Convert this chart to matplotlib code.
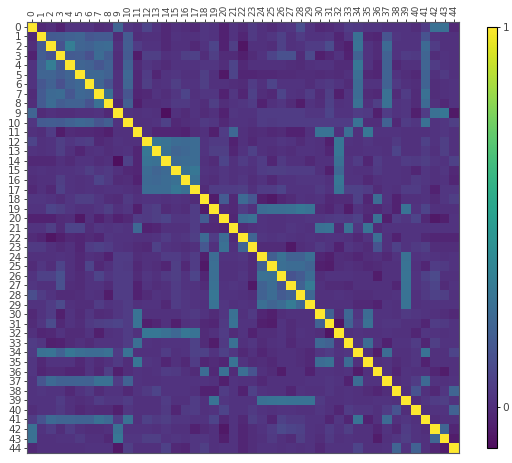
import numpy as np
import matplotlib
matplotlib.use('Agg')
import matplotlib.pyplot as plt

labels = [str(i) for i in range(45)]

# upper triangle of the correlation matrix, in hundredths, row i holds columns i+1..44
upper = [
    [-2,0,-4,2,2,2,-1,0,22,3, 1,8,2,-2,1,0,-2,3,2,-4, 2,-1,4,1,-1,2,3,12,2,-2, -1,1,5,4,3,3,2,2,2,0, 5,27,27,-2],
    [17,18,20,22,16,17,17,-1,17, 0,1,1,-2,2,1,1,3,2,-4, 2,-3,4,1,3,7,1,5,2,2, 3,-3,3,27,-2,-3,15,3,2,2, 14,2,1,1],
    [14,33,22,20,24,25,1,18, 5,2,2,-2,1,1,-2,2,8,-4, 6,-8,1,1,0,7,1,2,5,5, 11,-2,-5,28,2,-1,24,2,2,2, 24,5,1,1],
    [17,18,13,25,18,0,17, -6,6,6,1,2,6,7,0,6,-1, -1,-5,-1,2,8,13,13,-1,10,-5, -2,2,-4,20,2,-1,20,2,5,4, 22,0,2,1],
    [22,20,16,20,0,20, -1,3,1,-1,2,2,2,3,3,0, 8,-2,1,1,1,1,0,-1,1,2, 2,-1,-1,30,2,-3,20,-2,1,1, 22,5,2,1],
    [23,23,20,1,23, -2,5,-3,2,3,1,1,6,1,-7, 8,-3,-3,-2,-2,-1,-1,0,0,-1, 0,-1,1,26,-2,-3,21,2,0,-2, 21,1,4,1],
    [22,14,1,22, -2,6,1,2,6,2,2,6,1,1, 0,-1,5,1,8,2,2,2,0,3, 4,2,-1,25,2,2,20,4,1,0, 21,0,1,2],
    [27,2,15, -3,-2,2,0,3,8,1,3,3,-4, 3,-3,7,0,-2,8,2,1,5,-1, 6,-5,2,25,-1,-2,27,-1,5,-1, 27,0,1,2],
    [-2,19, -5,0,0,1,4,4,2,0,6,0, 2,3,5,-4,1,3,-1,-6,2,0, 7,1,2,27,1,6,27,2,3,-1, 24,1,-2,2],
    [2, 1,2,1,-10,1,-1,2,-1,1,-4, 3,2,2,5,5,5,5,5,3,3, 8,2,2,5,4,-5,5,2,3,-5, 5,27,30,-7],
    [1,1,2,7,-2,0,1,4,3,-2, 2,2,1,5,4,5,5,5,5,5, 5,5,5,28,0,0,20,-2,5,3, 27,2,3,6],
    [1,-3,-3,-3,-4,0,1,-5,5, 23,1,-1,0,-2,-1,-4,-4,1,28, 28,1,26,1,30,2,2,2,1,1, 1,2,3,1],
    [30,28,25,24,25,2,4,4, -4,1,-2,1,1,3,2,-1,2,1, -5,30,2,1,3,1,1,4,1,1, 7,2,6,1],
    [27,22,23,25,2,6,6, -3,2,7,1,0,1,0,2,2,1, -3,30,1,1,2,2,1,8,1,1, 4,1,6,1],
    [24,25,25,1,-1,8, 1,5,2,5,-3,4,1,1,-2,1, 1,27,2,5,-3,5,2,2,5,4, 6,3,2,7],
    [27,30,2,1,3, 1,2,1,5,6,6,5,5,5,1, -5,23,2,1,1,4,2,2,1,-3, 3,1,3,-2],
    [27,1,0,3, 1,3,0,2,-2,2,2,3,3,3, 1,30,2,2,-2,1,2,2,1,4, 3,1,2,-3],
    [-1,5,5, 5,6,1,5,5,8,2,2,2,4, 2,28,7,7,5,-1,2,1,5,5, 2,-4,3,3],
    [-6,17, -2,24,16,-5,-7,-3,-1,2,1,2, -2,-1,-1,7,-3,25,2,-4,1,1, 2,-1,3,6],
    [-1, -2,5,1,25,26,26,27,30,28,-1, -3,1,-6,2,-1,-2,1,-4,28,2, 8,1,1,1],
    [-3,25,27,2,1,1,2,2,3,3, 4,5,4,7,-3,27,-5,5,3,8, -2,-7,-5,2],
    [-1,1,2,1,1,3,2,1,27, 28,-1,27,3,28,-1,2,2,2,2, 2,2,2,2],
    [22,3,2,3,2,1,2,1, 2,2,1,-2,2,26,1,-4,2,2, -2,-3,-3,-3],
    [-1,-1,-1,-7,0,1,4, 2,-4,3,1,-1,14,1,7,2,4, 6,0,0,0],
    [19,27,20,20,26,-3, -5,0,-1,-3,0,1,-2,2,27,2, 3,2,1,2],
    [26,25,25,22,-5, -6,0,1,0,-2,-1,1,1,28,1, -3,5,4,2],
    [14,17,25,0, 2,2,2,1,1,-6,1,1,29,2, 7,10,1,1],
    [20,32,1, -1,-1,-2,1,1,1,1,-3,28,2, 4,8,-1,2],
    [23,1, 1,2,1,0,0,1,1,2,28,1, 4,7,6,1],
    [1, 1,1,1,-2,-2,-4,2,1,28,1, 2,2,2,2],
    [20,0,23,3,25,2,2,1,4,3, 2,1,0,-2],
    [-8,20,5,27,2,3,3,1,1, -3,5,4,2],
    [1,2,1,1,2,1,1,-3, 3,2,1,2],
    [3,25,2,-4,2,2,5, -3,6,2,2],
    [1,-6,25,1,1,3, 28,1,1,8],
    [1,2,-1,1,3, -4,1,1,1],
    [2,-3,2,1, 1,-3,-6,1],
    [0,2,5, 24,2,1,2],
    [1,14, 1,-2,3,22],
    [0, 3,5,6,2],
    [1,2,2,20],
    [0,1,1],
    [22,-3],
    [-6],
]

# mirror into the full symmetric matrix
n = len(labels)
corr = np.eye(n)
for i, row in enumerate(upper):
    for k, val in enumerate(row):
        corr[i, i + 1 + k] = val / 100
        corr[i + 1 + k, i] = val / 100

vmin = -0.108
vmax = 1

fig = plt.figure(figsize=[5.12, 4.63], dpi=100)
ax = fig.add_axes([27 / 512, 1 - 453 / 463, 432 / 512, 431 / 463])
im = ax.imshow(corr, cmap='viridis', vmin=vmin, vmax=vmax, aspect='auto',
               interpolation='nearest', alpha=0.95)

ax.xaxis.tick_top()
ax.set_xticks(range(n))
ax.set_yticks(range(n))
ax.set_xticklabels(labels, rotation=90, fontsize=6.5, color='#444444')
ax.set_yticklabels(labels, fontsize=7.6, color='#444444')
ax.tick_params(axis='both', length=2.5, width=0.6, pad=1.5, color='#222222')
for spine in ax.spines.values():
    spine.set_color('#555566')
    spine.set_linewidth(0.8)

cax = fig.add_axes([487 / 512, 1 - 448 / 463, 10 / 512, 421 / 463])
cbar = fig.colorbar(im, cax=cax, ticks=[0, 1])
cbar.ax.tick_params(labelsize=7.6, length=2.5, width=0.6, pad=1.5, labelcolor='#444444')
cbar.outline.set_linewidth(0.8)

plt.savefig('out.png', dpi=100)
